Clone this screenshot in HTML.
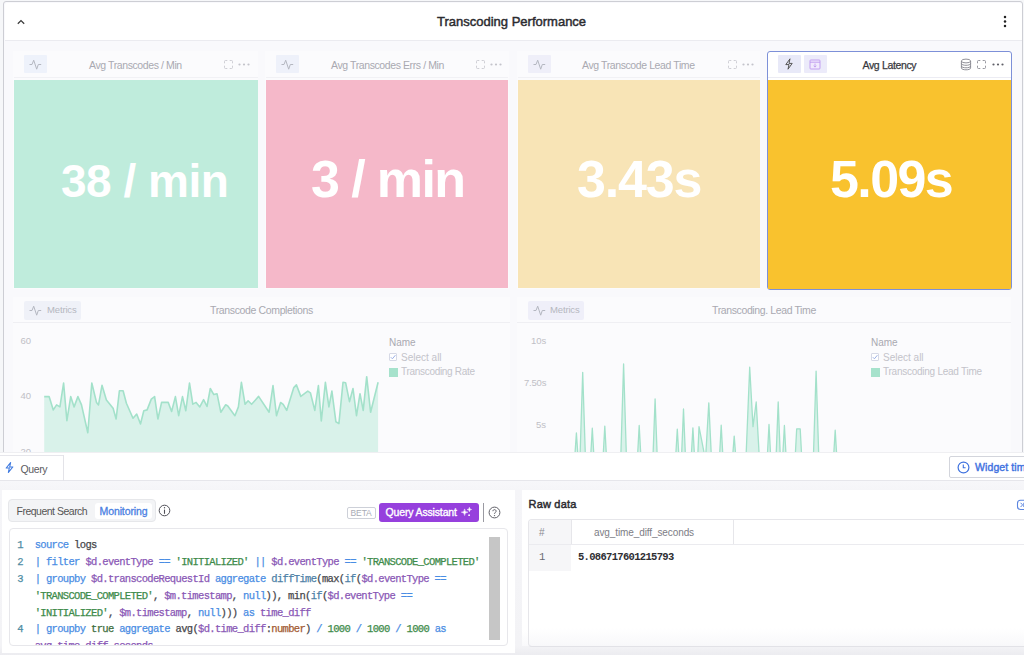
<!DOCTYPE html>
<html><head><meta charset="utf-8">
<style>
*{box-sizing:border-box;margin:0;padding:0}
html,body{width:1024px;height:655px;overflow:hidden;background:#f6f7f9;font-family:"Liberation Sans",sans-serif;position:relative}
.a{position:absolute}
.nw{white-space:nowrap;line-height:1}
.ib{position:absolute;width:23px;height:18px;background:#eef1fa;border-radius:1px}
.ctitle{font-size:10.5px;letter-spacing:-0.4px;color:#a9a9b1}
.big{position:absolute;color:#fff;font-weight:700;white-space:nowrap;line-height:1}
.mono{font-family:"Liberation Mono",monospace}
.code{font-size:10.5px;letter-spacing:-0.67px;line-height:16.85px;color:#48484c;white-space:pre;-webkit-text-stroke:0.25px currentColor}
.k{color:#4a8de4}.v{color:#8a58b6}.s{color:#3d8b4a}.t{color:#4d7fa6}.g{color:#3e6e3e}.b{color:#a35a32}
.ln{color:#4f8ca3}
</style></head><body>
<!-- dashboard container -->
<div class="a" style="left:3px;top:1px;width:1020px;height:460px;border:1.5px solid #cdced4;border-radius:3px;background:#f9f9fc"></div>
<div class="a" style="left:4.5px;top:2.5px;width:1017px;height:38px;background:#fff;border-bottom:1px solid #ebebf0;border-radius:2px 2px 0 0"></div>
<svg class="a" style="left:16px;top:18px" width="10" height="8" viewBox="0 0 10 8"><path d="M1.8 5.8 L5 2.6 L8.2 5.8" fill="none" stroke="#3a3a3a" stroke-width="1.25"/></svg>
<div class="a nw" style="left:437px;top:15px;font-size:13px;font-weight:400;-webkit-text-stroke:0.45px #2b2b2f;color:#2b2b2f">Transcoding Performance</div>
<svg class="a" style="left:1002px;top:14px" width="6" height="14"><circle cx="3" cy="3" r="1.25" fill="#222"/><circle cx="3" cy="7.5" r="1.25" fill="#222"/><circle cx="3" cy="12" r="1.25" fill="#222"/></svg>

<!-- cards -->
<div class="a" style="left:13px;top:51px;width:245px;height:238px;background:#fbfbfd"></div>
<div class="a" style="left:14px;top:80px;width:243.5px;height:208px;background:#bfecdc"></div>
<div class="a" style="left:265px;top:51px;width:244px;height:238px;background:#fbfbfd"></div>
<div class="a" style="left:266px;top:80px;width:242px;height:208px;background:#f5b8c9"></div>
<div class="a" style="left:517px;top:51px;width:243px;height:238px;background:#fbfbfd"></div>
<div class="a" style="left:517.6px;top:80px;width:242px;height:208px;background:#f8e4b6"></div>
<div class="a" style="left:767px;top:51px;width:245px;height:238.5px;background:#fff;border:1px solid #7d90d8;border-radius:3px"></div>
<div class="a" style="left:768px;top:80px;width:243px;height:208.5px;background:#f9c22e"></div>
<div class="a" style="left:14px;top:77px;width:243.5px;height:1px;background:#f1f1f5"></div>
<div class="a" style="left:266px;top:77px;width:242px;height:1px;background:#f1f1f5"></div>
<div class="a" style="left:518px;top:77px;width:242px;height:1px;background:#f1f1f5"></div>
<div class="a" style="left:768px;top:77px;width:243px;height:1px;background:#ececf3"></div>

<!-- card headers -->
<div class="ib" style="left:24px;top:55px;background:#eef2fb"></div>
<svg class="a" style="left:29px;top:59px" width="13" height="12" viewBox="0 0 13 12"><path d="M0.5 5.5 H3 L4.7 1.2 L7.7 10.2 L9.3 5.5 H12.2" fill="none" stroke="#b4b7c0" stroke-width="1"/></svg>
<div class="a nw ctitle" style="left:89px;top:59.5px">Avg Transcodes / Min</div>
<div class="ib" style="left:276px;top:55px;background:#eef1fa"></div>
<svg class="a" style="left:281px;top:59px" width="13" height="12" viewBox="0 0 13 12"><path d="M0.5 5.5 H3 L4.7 1.2 L7.7 10.2 L9.3 5.5 H12.2" fill="none" stroke="#b4b7c0" stroke-width="1"/></svg>
<div class="a nw ctitle" style="left:331px;top:59.5px">Avg Transcodes Errs / Min</div>
<div class="ib" style="left:528px;top:55px;background:#efeff9"></div>
<svg class="a" style="left:533px;top:59px" width="13" height="12" viewBox="0 0 13 12"><path d="M0.5 5.5 H3 L4.7 1.2 L7.7 10.2 L9.3 5.5 H12.2" fill="none" stroke="#b4b7c0" stroke-width="1"/></svg>
<div class="a nw ctitle" style="left:582px;top:59.5px">Avg Transcode Lead Time</div>

<!-- expand + dots for faded cards -->
<svg class="a" style="left:223.5px;top:59.5px" width="10" height="10" viewBox="0 0 10 10"><path d="M0.5 3.3 V1.5 Q0.5 0.5 1.5 0.5 H3.3 M5.7 0.5 H7.5 Q8.5 0.5 8.5 1.5 V3.3 M8.5 5.7 V7.5 Q8.5 8.5 7.5 8.5 H5.7 M3.3 8.5 H1.5 Q0.5 8.5 0.5 7.5 V5.7" fill="none" stroke="#c9c9d0" stroke-width="0.9"/></svg><svg class="a" style="left:237px;top:62px" width="14" height="5"><circle cx="2.5" cy="2.5" r="1.1" fill="#c4c4cb"/><circle cx="7" cy="2.5" r="1.1" fill="#c4c4cb"/><circle cx="11.5" cy="2.5" r="1.1" fill="#c4c4cb"/></svg>
<svg class="a" style="left:475.5px;top:59.5px" width="10" height="10" viewBox="0 0 10 10"><path d="M0.5 3.3 V1.5 Q0.5 0.5 1.5 0.5 H3.3 M5.7 0.5 H7.5 Q8.5 0.5 8.5 1.5 V3.3 M8.5 5.7 V7.5 Q8.5 8.5 7.5 8.5 H5.7 M3.3 8.5 H1.5 Q0.5 8.5 0.5 7.5 V5.7" fill="none" stroke="#c9c9d0" stroke-width="0.9"/></svg><svg class="a" style="left:489px;top:62px" width="14" height="5"><circle cx="2.5" cy="2.5" r="1.1" fill="#c4c4cb"/><circle cx="7" cy="2.5" r="1.1" fill="#c4c4cb"/><circle cx="11.5" cy="2.5" r="1.1" fill="#c4c4cb"/></svg>
<svg class="a" style="left:727.5px;top:59.5px" width="10" height="10" viewBox="0 0 10 10"><path d="M0.5 3.3 V1.5 Q0.5 0.5 1.5 0.5 H3.3 M5.7 0.5 H7.5 Q8.5 0.5 8.5 1.5 V3.3 M8.5 5.7 V7.5 Q8.5 8.5 7.5 8.5 H5.7 M3.3 8.5 H1.5 Q0.5 8.5 0.5 7.5 V5.7" fill="none" stroke="#c9c9d0" stroke-width="0.9"/></svg><svg class="a" style="left:740.5px;top:62px" width="14" height="5"><circle cx="2.5" cy="2.5" r="1.1" fill="#c4c4cb"/><circle cx="7" cy="2.5" r="1.1" fill="#c4c4cb"/><circle cx="11.5" cy="2.5" r="1.1" fill="#c4c4cb"/></svg>
<svg class="a" style="left:476px;top:304.5px" width="10" height="10" viewBox="0 0 10 10"><path d="M0.5 3.3 V1.5 Q0.5 0.5 1.5 0.5 H3.3 M5.7 0.5 H7.5 Q8.5 0.5 8.5 1.5 V3.3 M8.5 5.7 V7.5 Q8.5 8.5 7.5 8.5 H5.7 M3.3 8.5 H1.5 Q0.5 8.5 0.5 7.5 V5.7" fill="none" stroke="#c9c9d0" stroke-width="0.9"/></svg><svg class="a" style="left:489px;top:307px" width="14" height="5"><circle cx="2.5" cy="2.5" r="1.1" fill="#c4c4cb"/><circle cx="7" cy="2.5" r="1.1" fill="#c4c4cb"/><circle cx="11.5" cy="2.5" r="1.1" fill="#c4c4cb"/></svg>
<svg class="a" style="left:977px;top:305px" width="10" height="10" viewBox="0 0 10 10"><path d="M0.5 3.3 V1.5 Q0.5 0.5 1.5 0.5 H3.3 M5.7 0.5 H7.5 Q8.5 0.5 8.5 1.5 V3.3 M8.5 5.7 V7.5 Q8.5 8.5 7.5 8.5 H5.7 M3.3 8.5 H1.5 Q0.5 8.5 0.5 7.5 V5.7" fill="none" stroke="#c9c9d0" stroke-width="0.9"/></svg><svg class="a" style="left:991px;top:307.5px" width="14" height="5"><circle cx="2.5" cy="2.5" r="1.1" fill="#c4c4cb"/><circle cx="7" cy="2.5" r="1.1" fill="#c4c4cb"/><circle cx="11.5" cy="2.5" r="1.1" fill="#c4c4cb"/></svg>


<div class="ib" style="left:778px;top:55px;background:#e8e9f8"></div>
<svg class="a" style="left:784px;top:58px" width="10" height="12" viewBox="0 0 10 12"><path d="M6 0.8 L1.8 6.6 H5 L4 11.2 L8.2 5.4 H5 Z" fill="none" stroke="#555" stroke-width="1" stroke-linejoin="round"/></svg>
<div class="ib" style="left:804px;top:55px;background:#ecebfa"></div>
<svg class="a" style="left:809px;top:59px" width="12" height="11" viewBox="0 0 12 11"><rect x="1" y="1" width="10" height="9" rx="0.8" fill="#f1eafd" stroke="#bb94ee" stroke-width="0.85"/><path d="M1 3.2 H11" stroke="#bb94ee" stroke-width="0.85"/><path d="M6 4.6 V8 M4.6 6.8 L6 8.1 L7.4 6.8" fill="none" stroke="#bb94ee" stroke-width="0.8"/></svg>
<div class="a nw" style="left:862.5px;top:60px;font-size:10.5px;letter-spacing:-0.35px;-webkit-text-stroke:0.25px #38383d;color:#38383d">Avg Latency</div>
<svg class="a" style="left:960px;top:58px" width="12" height="13" viewBox="0 0 12 13"><ellipse cx="6" cy="3" rx="4.6" ry="1.9" fill="none" stroke="#85858d" stroke-width="0.9"/><path d="M1.4 3 V10 C1.4 12.4 10.6 12.4 10.6 10 V3 M1.4 5.5 C1.4 7.9 10.6 7.9 10.6 5.5 M1.4 8 C1.4 10.4 10.6 10.4 10.6 8" fill="none" stroke="#85858d" stroke-width="0.9"/></svg>
<svg class="a" style="left:977px;top:59.5px" width="10" height="10" viewBox="0 0 10 10"><path d="M0.5 3.3 V1.5 Q0.5 0.5 1.5 0.5 H3.3 M5.7 0.5 H7.5 Q8.5 0.5 8.5 1.5 V3.3 M8.5 5.7 V7.5 Q8.5 8.5 7.5 8.5 H5.7 M3.3 8.5 H1.5 Q0.5 8.5 0.5 7.5 V5.7" fill="none" stroke="#8d8d95" stroke-width="0.9"/></svg>
<svg class="a" style="left:991px;top:62px" width="14" height="5"><circle cx="2.5" cy="2.5" r="1.1" fill="#606068"/><circle cx="7" cy="2.5" r="1.1" fill="#606068"/><circle cx="11.5" cy="2.5" r="1.1" fill="#606068"/></svg>

<!-- big numbers -->
<div class="big" style="left:61px;top:158px;font-size:46px;letter-spacing:-0.5px">38 / min</div>
<div class="big" style="left:311px;top:153px;font-size:52px;letter-spacing:-1.6px">3 / min</div>
<div class="big" style="left:577px;top:153px;font-size:52px;letter-spacing:-1.2px">3.43s</div>
<div class="big" style="left:830px;top:153px;font-size:52px;letter-spacing:-1.6px">5.09s</div>

<!-- lower panels -->
<div class="a" style="left:13px;top:297px;width:497px;height:160px;background:#fbfbfd"></div>
<div class="a" style="left:13px;top:322px;width:497px;height:1px;background:#efeff3"></div>
<div class="a" style="left:517px;top:297px;width:494px;height:160px;background:#fbfbfd"></div>
<div class="a" style="left:517px;top:322px;width:494px;height:1px;background:#efeff3"></div>

<div class="a" style="left:24px;top:301px;width:57px;height:19px;background:#eff1f8;border-radius:2px"></div>
<svg class="a" style="left:29px;top:305px" width="13" height="12" viewBox="0 0 13 12"><path d="M0.5 5.5 H3 L4.7 1.2 L7.7 10.2 L9.3 5.5 H12.2" fill="none" stroke="#b4b7c0" stroke-width="1"/></svg>
<div class="a nw" style="left:47px;top:305px;font-size:9.5px;color:#b5b7c0;letter-spacing:-0.15px">Metrics</div>
<div class="a nw ctitle" style="left:210px;top:305px;letter-spacing:-0.36px">Transcode Completions</div>

<div class="a" style="left:528px;top:301px;width:56px;height:19px;background:#efeff9;border-radius:2px"></div>
<svg class="a" style="left:533px;top:305px" width="13" height="12" viewBox="0 0 13 12"><path d="M0.5 5.5 H3 L4.7 1.2 L7.7 10.2 L9.3 5.5 H12.2" fill="none" stroke="#b4b7c0" stroke-width="1"/></svg>
<div class="a nw" style="left:550px;top:305px;font-size:9.5px;color:#b5b7c0;letter-spacing:-0.15px">Metrics</div>
<div class="a nw ctitle" style="left:712px;top:305px;letter-spacing:-0.38px">Transcoding. Lead Time</div>

<!-- charts -->
<div class="a nw" style="left:20.5px;top:335.5px;font-size:9.5px;color:#c0c0c6">60</div>
<div class="a nw" style="left:20.5px;top:390.8px;font-size:9.5px;color:#c0c0c6">40</div>
<div class="a nw" style="left:20.5px;top:447px;font-size:9.5px;color:#c0c0c6">20</div>
<div class="a nw" style="left:531px;top:336px;font-size:9.5px;color:#c0c0c6">10s</div>
<div class="a nw" style="left:524px;top:377.5px;font-size:9.5px;color:#c0c0c6;letter-spacing:-0.2px">7.50s</div>
<div class="a nw" style="left:536px;top:420px;font-size:9.5px;color:#c0c0c6">5s</div>
<svg class="a" style="left:0;top:0" width="1024" height="452" viewBox="0 0 1024 452">
<path d="M44.2 396.6 L49.1 396.6 L53.3 409.9 L56.6 404.9 L59.9 406.9 L63.6 383.0 L66.9 420.7 L70.7 396.6 L74.1 406.9 L77.9 396.6 L81.5 404.9 L87.8 432.8 L91.8 383.0 L96.5 402.4 L98.5 404.9 L102.0 385.3 L106.4 399.9 L113.1 408.2 L116.1 419.0 L119.4 390.8 L123.1 390.8 L126.4 403.2 L133.0 418.2 L136.7 414.0 L140.5 424.0 L143.8 410.7 L147.1 409.9 L151.3 399.1 L154.6 396.6 L157.9 419.0 L161.6 402.4 L168.2 402.4 L171.6 411.5 L175.4 396.6 L178.7 415.7 L182.5 396.6 L185.8 410.7 L189.5 383.0 L192.8 404.1 L196.1 402.4 L199.8 406.9 L203.6 399.6 L207.0 406.5 L210.3 388.5 L213.8 394.6 L217.0 393.7 L220.8 412.2 L225.7 404.8 L227.8 406.0 L234.9 415.7 L238.4 406.9 L241.4 382.3 L245.1 404.3 L248.1 400.8 L251.6 404.3 L258.6 396.4 L269.1 412.2 L273.0 385.5 L276.5 415.7 L280.6 402.5 L283.2 404.3 L286.7 410.4 L293.8 387.6 L296.4 384.9 L300.8 396.4 L307.8 391.1 L310.4 392.8 L314.8 410.4 L318.4 385.5 L321.3 421.0 L325.4 382.3 L328.9 406.9 L331.9 391.1 L335.9 421.8 L338.9 423.6 L343.0 382.3 L345.6 382.7 L349.5 401.6 L353.0 388.5 L356.5 415.7 L360.0 393.7 L363.2 410.4 L366.7 376.7 L370.6 412.2 L378.1 382.3 L378.1 460 L44.2 460 Z" fill="#d9f2ea"/>
<path d="M44.2 396.6 L49.1 396.6 L53.3 409.9 L56.6 404.9 L59.9 406.9 L63.6 383.0 L66.9 420.7 L70.7 396.6 L74.1 406.9 L77.9 396.6 L81.5 404.9 L87.8 432.8 L91.8 383.0 L96.5 402.4 L98.5 404.9 L102.0 385.3 L106.4 399.9 L113.1 408.2 L116.1 419.0 L119.4 390.8 L123.1 390.8 L126.4 403.2 L133.0 418.2 L136.7 414.0 L140.5 424.0 L143.8 410.7 L147.1 409.9 L151.3 399.1 L154.6 396.6 L157.9 419.0 L161.6 402.4 L168.2 402.4 L171.6 411.5 L175.4 396.6 L178.7 415.7 L182.5 396.6 L185.8 410.7 L189.5 383.0 L192.8 404.1 L196.1 402.4 L199.8 406.9 L203.6 399.6 L207.0 406.5 L210.3 388.5 L213.8 394.6 L217.0 393.7 L220.8 412.2 L225.7 404.8 L227.8 406.0 L234.9 415.7 L238.4 406.9 L241.4 382.3 L245.1 404.3 L248.1 400.8 L251.6 404.3 L258.6 396.4 L269.1 412.2 L273.0 385.5 L276.5 415.7 L280.6 402.5 L283.2 404.3 L286.7 410.4 L293.8 387.6 L296.4 384.9 L300.8 396.4 L307.8 391.1 L310.4 392.8 L314.8 410.4 L318.4 385.5 L321.3 421.0 L325.4 382.3 L328.9 406.9 L331.9 391.1 L335.9 421.8 L338.9 423.6 L343.0 382.3 L345.6 382.7 L349.5 401.6 L353.0 388.5 L356.5 415.7 L360.0 393.7 L363.2 410.4 L366.7 376.7 L370.6 412.2 L378.1 382.3" fill="none" stroke="#a3e1ca" stroke-width="1.6" stroke-linejoin="round"/>
<path d="M573.9 470.0 L576.4 433.0 L578.9 470.0 M579.6 470.0 L582.7 372.3 L585.8 470.0 M589.9 470.0 L592.3 428.2 L594.7 470.0 M602.4 470.0 L604.8 426.1 L607.2 470.0 M620.4 470.0 L623.6 363.9 L626.8 470.0 M636.8 470.0 L639.2 425.5 L641.6 470.0 M652.5 470.0 L655.1 398.9 L657.7 470.0 M674.9 470.0 L677.3 429.2 L679.7 470.0 M681.0 470.0 L683.5 409.0 L686.0 470.0 M690.5 470.0 L692.9 427.8 L695.3 470.0 M718.8 470.0 L721.2 425.2 L723.6 470.0 M731.6 470.0 L734.2 436.1 L736.8 470.0 M766.6 470.0 L769.0 424.5 L771.4 470.0 M775.6 470.0 L778.2 402.0 L780.8 470.0 M782.0 470.0 L784.4 425.5 L786.8 470.0 M813.0 470.0 L816.1 371.1 L819.2 470.0 M832.8 470.0 L835.2 430.2 L837.6 470.0 M697.2 470 L699 426.7 L705.5 460 L708.8 402.8 L712 470 M745.5 470 L749.7 367.2 L753 426.7 L756.2 402 L760 470 M794.5 470 L796.7 428.8 L800.2 428.8 L802.4 470" fill="#d9f2ea" stroke="#a3e1ca" stroke-width="1.3" stroke-linejoin="round"/>
</svg>

<!-- legends -->
<div class="a nw" style="left:389px;top:338px;font-size:10px;color:#a9a9b1">Name</div>
<div class="a" style="left:389px;top:352.5px;width:8px;height:8px;border:1px solid #d6d9e6;background:#fff;border-radius:1px"></div>
<svg class="a" style="left:389px;top:352.5px" width="8" height="8"><path d="M1.8 4.2 L3.4 5.8 L6.4 2.2" fill="none" stroke="#9cb0e6" stroke-width="1"/></svg>
<div class="a nw" style="left:401px;top:352.5px;font-size:10px;color:#c3c3ca">Select all</div>
<div class="a" style="left:389px;top:368px;width:8.5px;height:8.5px;background:#a6e2cc"></div>
<div class="a nw" style="left:401px;top:367px;font-size:10px;color:#c3c3ca;letter-spacing:-0.3px">Transcoding Rate</div>

<div class="a nw" style="left:871px;top:338px;font-size:10px;color:#a9a9b1">Name</div>
<div class="a" style="left:871px;top:352.5px;width:8px;height:8px;border:1px solid #d6d9e6;background:#fff;border-radius:1px"></div>
<svg class="a" style="left:871px;top:352.5px" width="8" height="8"><path d="M1.8 4.2 L3.4 5.8 L6.4 2.2" fill="none" stroke="#9cb0e6" stroke-width="1"/></svg>
<div class="a nw" style="left:883px;top:352.5px;font-size:10px;color:#c3c3ca">Select all</div>
<div class="a" style="left:871px;top:368px;width:8.5px;height:8.5px;background:#a6e2cc"></div>
<div class="a nw" style="left:883px;top:367px;font-size:10px;color:#c3c3ca;letter-spacing:-0.25px">Transcoding Lead Time</div>

<!-- bottom tab bar -->
<div class="a" style="left:0;top:452px;width:1024px;height:29px;background:#fff;border-bottom:1px solid #e6e6eb"></div>
<div class="a" style="left:0;top:452px;width:1024px;height:1px;background:#efeff2"></div>
<div class="a" style="left:0;top:455px;width:64px;height:1px;background:#e6e6eb"></div>
<div class="a" style="left:63px;top:455px;width:1px;height:26px;background:#e3e3e8"></div>
<svg class="a" style="left:5px;top:462px" width="9" height="11" viewBox="0 0 9 11"><path d="M5.6 0.6 L1.2 6 H4.3 L3.4 10.4 L7.8 5 H4.7 Z" fill="none" stroke="#3f7ae0" stroke-width="1.1" stroke-linejoin="round"/></svg>
<div class="a nw" style="left:20.5px;top:463.5px;font-size:10.5px;color:#5c5c62;letter-spacing:-0.4px">Query</div>
<div class="a" style="left:949px;top:456px;width:80px;height:22px;background:#fff;border:1px solid #d3d5dc;border-radius:2px"></div>
<svg class="a" style="left:957px;top:460.5px" width="13" height="13" viewBox="0 0 13 13"><circle cx="6.5" cy="6.5" r="5.4" fill="none" stroke="#3f72df" stroke-width="1.2"/><path d="M6.3 3.4 V6.8 H8.6" fill="none" stroke="#3f72df" stroke-width="1.1"/></svg>
<div class="a nw" style="left:975px;top:461.5px;font-size:10.5px;color:#3f72df;letter-spacing:0.1px;-webkit-text-stroke:0.4px #3f72df">Widget time</div>

<!-- gray band -->
<div class="a" style="left:0;top:481px;width:1024px;height:174px;background:linear-gradient(#f7f7fa 0px,#f5f5f8 9px,#f3f3f6 165px,#ececf0 174px)"></div>
<!-- left query panel -->
<div class="a" style="left:2px;top:490px;width:513px;height:163px;background:#fff"></div>
<div class="a" style="left:8px;top:499px;width:148px;height:23px;background:#f3f4f6;border:1px solid #e6e7ea;border-radius:4px"></div>
<div class="a nw" style="left:16.5px;top:505.5px;font-size:10.5px;color:#555;letter-spacing:-0.5px">Frequent Search</div>
<div class="a" style="left:95px;top:503px;width:57px;height:16px;background:#fff;border-radius:3px"></div>
<div class="a nw" style="left:99.5px;top:505.5px;font-size:10.5px;color:#4a80e2;letter-spacing:-0.1px;-webkit-text-stroke:0.3px #4a80e2">Monitoring</div>
<svg class="a" style="left:158px;top:504px" width="13" height="13" viewBox="0 0 13 13"><circle cx="6.5" cy="6.5" r="5.3" fill="none" stroke="#505058" stroke-width="1"/><path d="M6.5 5.6 V9.8" stroke="#505058" stroke-width="1.1"/><circle cx="6.5" cy="3.8" r="0.7" fill="#505058"/></svg>

<div class="a" style="left:347px;top:506.5px;width:28.5px;height:12px;border:1px solid #cdd0d8;border-radius:2px"></div>
<div class="a nw" style="left:350.5px;top:508.5px;font-size:8.5px;color:#a8abb5;letter-spacing:-0.1px">BETA</div>
<div class="a" style="left:379px;top:502.5px;width:100px;height:19px;background:#9640dd;border-radius:3px"></div>
<div class="a nw" style="left:385.5px;top:507px;font-size:10.5px;color:#fff;letter-spacing:-0.15px;-webkit-text-stroke:0.35px #fff">Query Assistant</div>
<svg class="a" style="left:458px;top:505px" width="15" height="15" viewBox="0 0 15 15"><path d="M6.6 3.9000000000000004 Q6.6 7.2 9.899999999999999 7.2 Q6.6 7.2 6.6 10.5 Q6.6 7.2 3.3 7.2 Q6.6 7.2 6.6 3.9000000000000004 Z M11.4 2.3 Q11.4 4.5 13.600000000000001 4.5 Q11.4 4.5 11.4 6.7 Q11.4 4.5 9.2 4.5 Q11.4 4.5 11.4 2.3 Z" fill="#fff" stroke="#fff" stroke-width="0.5"/><circle cx="11.1" cy="10.2" r="0.9" fill="#fff"/></svg>
<div class="a" style="left:483px;top:503px;width:1.2px;height:19px;background:#9a9aa2"></div>
<svg class="a" style="left:488px;top:505.5px" width="13" height="13" viewBox="0 0 13 13"><circle cx="6.5" cy="6.5" r="5.4" fill="none" stroke="#606068" stroke-width="1"/><path d="M4.9 5.2 C4.9 3.1 8.1 3.1 8.1 5.2 C8.1 6.4 6.5 6.6 6.5 7.9" fill="none" stroke="#606068" stroke-width="1"/><circle cx="6.5" cy="9.6" r="0.7" fill="#606068"/></svg>

<div class="a" style="left:8.5px;top:528px;width:499px;height:118px;border:1px solid #e7e7eb;border-radius:4px;background:#fff;overflow:hidden">
<div class="a" style="left:479px;top:8px;width:11.5px;height:103px;background:#c6c6c6"></div>
<div class="a mono code" style="left:7.8px;top:8.2px"><span class="ln">1</span>
<span class="ln">2</span>
<span class="ln">3</span>


<span class="ln">4</span></div>
<div class="a mono code" style="left:25.2px;top:8.2px"><span class="k">source</span> logs
<span class="k">|</span> <span class="k">filter</span> <span class="v">$d.eventType</span> <span class="k">==</span> <span class="s">'INITIALIZED'</span> <span class="k">||</span> <span class="v">$d.eventType</span> <span class="k">==</span> <span class="s">'TRANSCODE_COMPLETED'</span>
<span class="k">|</span> <span class="k">groupby</span> <span class="v">$d.transcodeRequestId</span> <span class="k">aggregate</span> <span class="t">diffTime</span>(max(<span class="t">if</span>(<span class="v">$d.eventType</span> <span class="k">==</span>
<span class="s">'TRANSCODE_COMPLETED'</span>, <span class="v">$m.timestamp</span>, <span class="k">null</span>)), min(<span class="t">if</span>(<span class="v">$d.eventType</span> <span class="k">==</span>
<span class="s">'INITIALIZED'</span>, <span class="v">$m.timestamp</span>, <span class="k">null</span>))) <span class="k">as</span> <span class="v">time_diff</span>
<span class="k">|</span> <span class="k">groupby</span> <span class="g">true</span> <span class="k">aggregate</span> avg(<span class="v">$d.time_diff</span>:<span class="b">number</span>) <span class="k">/</span> <span class="s">1000</span> <span class="k">/</span> <span class="s">1000</span> <span class="k">/</span> <span class="s">1000</span> <span class="k">as</span>
<span class="v">avg_time_diff_seconds</span></div>
</div>

<!-- right raw data panel -->
<div class="a" style="left:522px;top:490px;width:502px;height:156px;background:linear-gradient(#fff 0px,#fff 140px,#f9f9fb 156px)"></div>
<div class="a nw" style="left:528.5px;top:498.5px;font-size:11px;color:#2b2b2f;letter-spacing:0.2px;-webkit-text-stroke:0.45px #2b2b2f">Raw data</div>
<svg class="a" style="left:1016px;top:499px" width="12" height="12" viewBox="0 0 12 12"><rect x="1.5" y="1.3" width="10" height="9.2" rx="3" fill="none" stroke="#5c86e0" stroke-width="1.1"/><path d="M4.6 3.8 L6.6 5.9 L4.6 8" fill="none" stroke="#5c86e0" stroke-width="1"/><path d="M7.8 3.8 V8" stroke="#5c86e0" stroke-width="1"/></svg>
<div class="a" style="left:528px;top:519px;width:510px;height:127.5px;border:1px solid #e6e6ea;border-bottom-color:#e2e2e7;border-radius:4px;background:linear-gradient(#fff 0px,#fff 108px,#f8f8fa 126px);overflow:hidden">
<div class="a" style="left:0;top:0;width:42px;height:51px;background:#f6f6f8"></div>
<div class="a" style="left:42px;top:0;width:1px;height:24.5px;background:#e6e6ea"></div>
<div class="a" style="left:203.5px;top:0;width:1px;height:24.5px;background:#e6e6ea"></div>
<div class="a" style="left:0;top:24px;width:510px;height:1px;background:#ebebef"></div>
<div class="a nw" style="left:10px;top:8px;font-size:10px;color:#8a8a92">#</div>
<div class="a nw" style="left:65px;top:8px;font-size:10px;color:#7d7d85;letter-spacing:-0.1px">avg_time_diff_seconds</div>
<div class="a nw mono" style="left:10px;top:32px;font-size:10.5px;color:#6a6a72">1</div>
<div class="a nw mono" style="left:49px;top:32px;font-size:10.5px;font-weight:700;color:#2e2e33;letter-spacing:-0.68px">5.086717601215793</div>
</div>
</body></html>
